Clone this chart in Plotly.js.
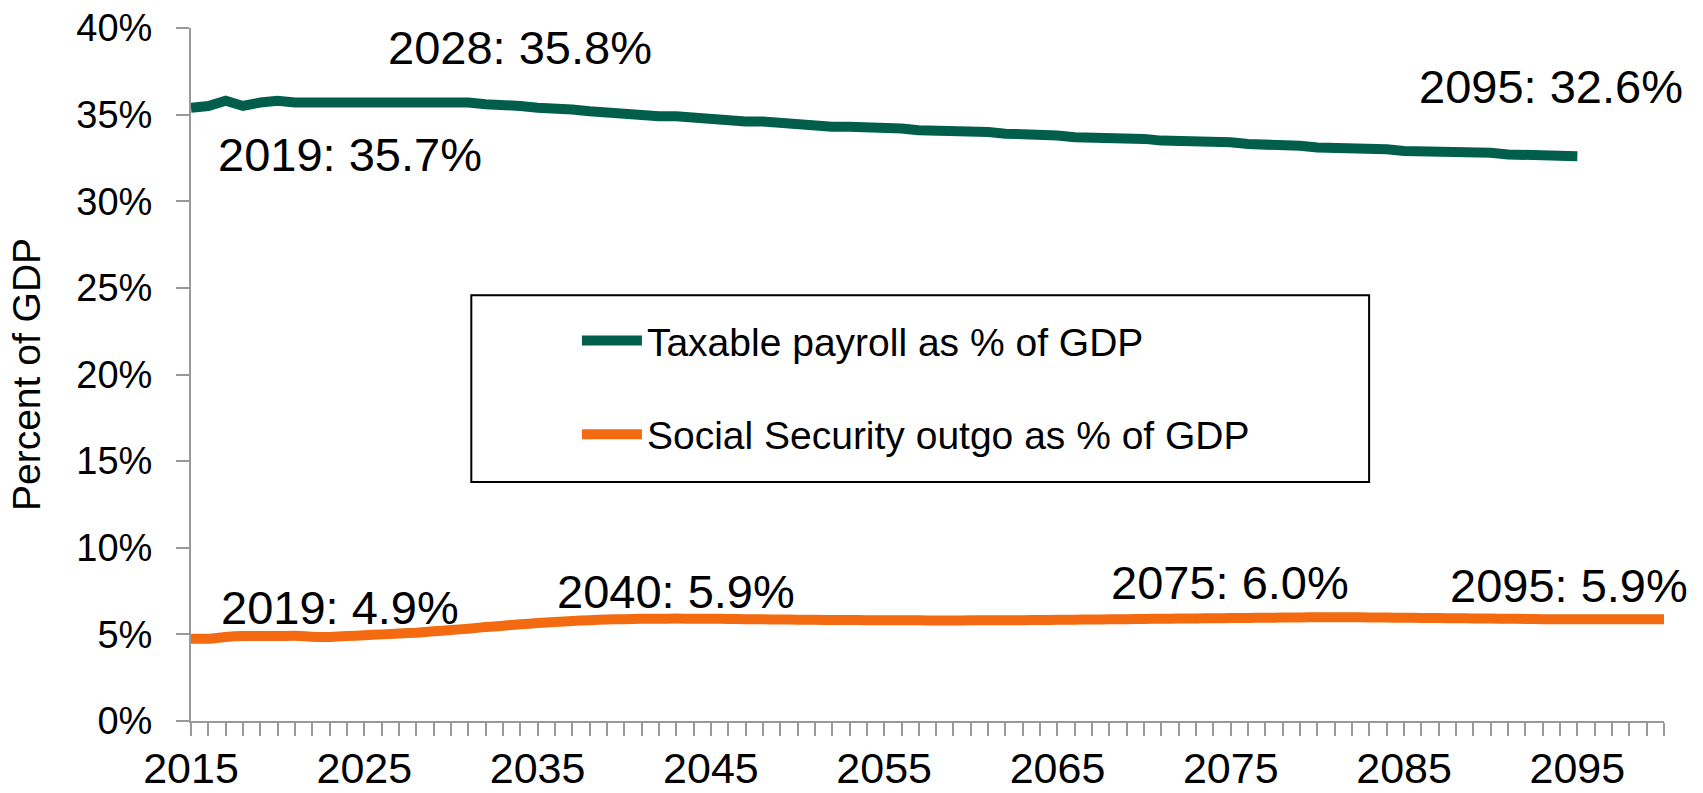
<!DOCTYPE html>
<html>
<head>
<meta charset="utf-8">
<script src="https://cdn.plot.ly/plotly-3.0.1.min.js"></script>
<style>
  html, body { margin: 0; padding: 0; background: #ffffff; }
  #chart { width: 1703px; height: 793px; }
</style>
</head>
<body>
<div id="chart"></div>
<script>
// ---- Data ----
var payrollYears = [];
for (var y = 2015; y <= 2095; y++) payrollYears.push(y);
var payrollPct = [
  35.4, 35.5, 35.8, 35.5, 35.7, 35.8, 35.7, 35.7, 35.8, 35.8,
  35.8, 35.8, 35.8, 35.8, 35.8, 35.8, 35.7, 35.6, 35.6, 35.5,
  35.4, 35.4, 35.3, 35.2, 35.1, 35.1, 35.0, 34.9, 34.9, 34.8,
  34.7, 34.7, 34.6, 34.6, 34.5, 34.4, 34.4, 34.3, 34.3, 34.3,
  34.2, 34.2, 34.1, 34.1, 34.0, 34.0, 34.0, 33.9, 33.9, 33.8,
  33.8, 33.7, 33.7, 33.6, 33.6, 33.6, 33.5, 33.5, 33.4, 33.4,
  33.4, 33.3, 33.3, 33.2, 33.2, 33.1, 33.1, 33.0, 33.0, 33.0,
  32.9, 32.9, 32.8, 32.8, 32.8, 32.8, 32.7, 32.7, 32.7, 32.6,
  32.6
];

var outgoYears = [];
for (var z = 2015; z <= 2100; z++) outgoYears.push(z);
var outgoPct = [
  4.75, 4.75, 4.85, 4.90, 4.90, 4.90, 4.92, 4.87, 4.85, 4.90,
  4.95, 5.00, 5.05, 5.10, 5.18, 5.25, 5.33, 5.42, 5.50, 5.58,
  5.65, 5.72, 5.77, 5.82, 5.86, 5.88, 5.90, 5.90, 5.91, 5.90,
  5.90, 5.89, 5.88, 5.87, 5.86, 5.85, 5.84, 5.83, 5.83, 5.82,
  5.82, 5.81, 5.81, 5.80, 5.80, 5.81, 5.81, 5.82, 5.82, 5.83,
  5.84, 5.85, 5.86, 5.87, 5.88, 5.89, 5.90, 5.91, 5.92, 5.93,
  5.94, 5.95, 5.96, 5.97, 5.98, 5.99, 5.99, 5.99, 5.98, 5.97,
  5.96, 5.95, 5.94, 5.93, 5.92, 5.91, 5.90, 5.89, 5.88, 5.88,
  5.88, 5.88, 5.88, 5.88, 5.88, 5.88
];

var seriesNames = ["Taxable payroll as % of GDP", "Social Security outgo as % of GDP"];
var seriesColors = ["#005E4B", "#F36A10"];

// Callout labels: [year, value %, text] (text centre positions)
var payrollLabels = [
  [2024.2, 32.7, "2019: 35.7%"],
  [2034.0, 38.85, "2028: 35.8%"],
  [2093.5, 36.6, "2095: 32.6%"]
];
var outgoLabels = [
  [2023.6, 6.55, "2019: 4.9%"],
  [2043.0, 7.5, "2040: 5.9%"],
  [2074.95, 8.0, "2075: 6.0%"],
  [2094.5, 7.8, "2095: 5.9%"]
];

var FONT = "Liberation Sans, Arial, sans-serif";

function pct(arr) { return arr.map(function (v) { return v / 100; }); }

var traces = [
  {
    x: payrollYears, y: pct(payrollPct), name: seriesNames[0],
    type: "scatter", mode: "lines", legendgroup: "a",
    line: { color: seriesColors[0], width: 10 }
  },
  {
    x: outgoYears, y: pct(outgoPct), name: seriesNames[1],
    type: "scatter", mode: "lines", legendgroup: "b",
    line: { color: seriesColors[1], width: 10, shape: "spline", smoothing: 0.6 }
  }
];

var annotations = payrollLabels.concat(outgoLabels).map(function (a) {
  return {
    x: a[0], y: a[1] / 100, xref: "x", yref: "y", text: a[2],
    showarrow: false, xanchor: "center", yanchor: "middle",
    font: { family: FONT, size: 47, color: "#000000" }
  };
});

var layout = {
  width: 1703, height: 793,
  margin: { l: 191, r: 39, t: 28, b: 72 },
  paper_bgcolor: "#ffffff", plot_bgcolor: "#ffffff",
  font: { family: FONT, color: "#000000" },
  showlegend: true,
  legend: {
    x: 0.262, y: 0.595, xanchor: "left", yanchor: "top",
    bgcolor: "rgba(0,0,0,0)", borderwidth: 0,
    itemwidth: 60,
    traceorder: "grouped", tracegroupgap: 40,
    font: { family: FONT, size: 39, color: "#000000" }
  },
  xaxis: {
    range: [2015, 2100], tick0: 2015, dtick: 10,
    showgrid: false, zeroline: false,
    showline: true, linecolor: "#999999", linewidth: 2,
    ticks: "outside", ticklen: 13, tickwidth: 2, tickcolor: "#999999",
    minor: { dtick: 1, ticks: "outside", ticklen: 13, tickwidth: 2, tickcolor: "#999999", showgrid: false },
    tickfont: { family: FONT, size: 43, color: "#000000" },
    ticklabelstandoff: -5,
    fixedrange: true
  },
  yaxis: {
    range: [0, 0.4], dtick: 0.05, tickformat: ".0%",
    showgrid: false, zeroline: false,
    showline: true, linecolor: "#999999", linewidth: 2,
    ticks: "outside", ticklen: 13, tickwidth: 2, tickcolor: "#999999",
    tickfont: { family: FONT, size: 38, color: "#000000" },
    ticklabelstandoff: 16,
    title: { text: "Percent of GDP", font: { family: FONT, size: 39, color: "#000000" }, standoff: 24 },
    fixedrange: true
  },
  shapes: [{
    type: "rect", xref: "paper", yref: "paper",
    x0: 0.1903, x1: 0.7998, y0: 0.3447, y1: 0.6144,
    line: { color: "#000000", width: 2 }, fillcolor: "rgba(0,0,0,0)", layer: "above"
  }],
  annotations: annotations
};

Plotly.newPlot("chart", traces, layout, { staticPlot: true, displayModeBar: false });
</script>
</body>
</html>
